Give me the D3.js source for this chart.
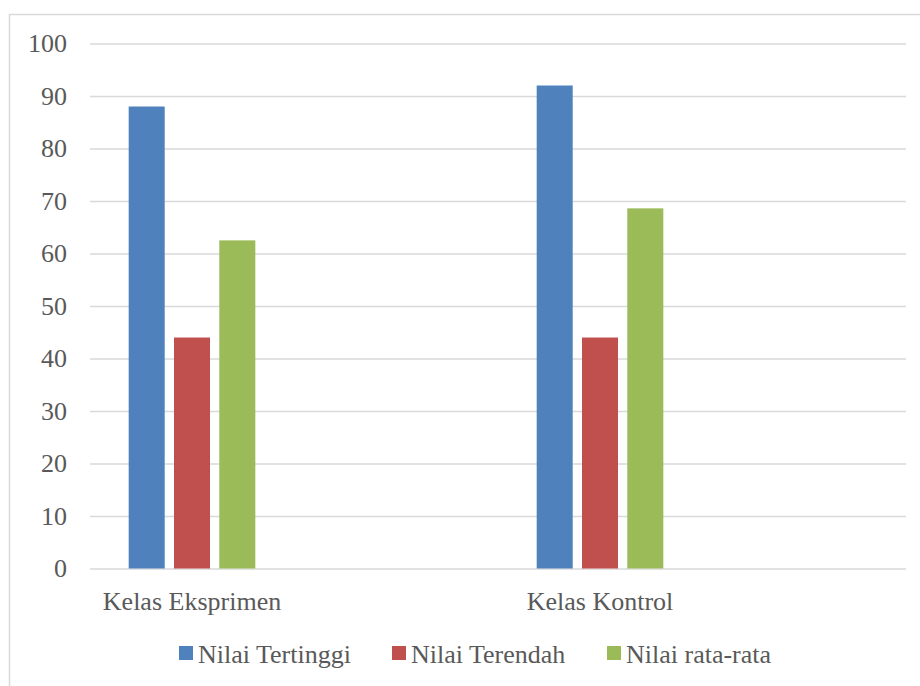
<!DOCTYPE html>
<html>
<head>
<meta charset="utf-8">
<script src="https://cdn.jsdelivr.net/npm/d3@7"></script>
<style>
  html, body { margin: 0; padding: 0; background: #fff; }
  svg { display: block; }
</style>
</head>
<body>
<script>
// Category slots (the sheet has an empty row after each class)
const categories = ["Kelas Eksprimen", "", "Kelas Kontrol", ""];
const seriesNames = ["Nilai Tertinggi", "Nilai Terendah", "Nilai rata-rata"];
const nilaiTertinggi = [88, null, 92, null];
const nilaiTerendah = [44, null, 44, null];
const nilaiRataRata = [62.5, null, 68.6, null];
const yTicks = [0, 10, 20, 30, 40, 50, 60, 70, 80, 90, 100];
const colors = ["#4F81BD", "#C0504D", "#9BBB59"];

const seriesValues = [nilaiTertinggi, nilaiTerendah, nilaiRataRata];
const FONT = "'Liberation Serif', serif";
const TEXT_COLOR = "#595959";

const svg = d3.select("body").append("svg")
  .attr("width", 920).attr("height", 686);
const plot = { left: 90, right: 906, top: 43.5, bottom: 568.5 };

function styleText(sel) {
  return sel.attr("fill", TEXT_COLOR)
    .style("font-family", FONT)
    .style("font-size", "26px");
}

// chart frame
svg.append("rect")
  .attr("x", 9.5).attr("y", 14.5)
  .attr("width", 1000).attr("height", 1000)
  .attr("fill", "none").attr("stroke", "#D9D9D9").attr("stroke-width", 1.5);

const x = d3.scaleBand()
  .domain(d3.range(categories.length))
  .range([plot.left, plot.right])
  .padding(0);

const xs = d3.scaleBand()
  .domain(seriesNames)
  .range([0, x.bandwidth()])
  .paddingInner(0.205)
  .paddingOuter(0.854);

const y = d3.scaleLinear().domain([0, 100]).range([plot.bottom, plot.top]);

// gridlines + y tick labels
const yAxis = d3.axisLeft(y)
  .tickValues(yTicks)
  .tickSize(-(plot.right - plot.left))
  .tickPadding(23)
  .tickFormat(d3.format("d"));

const gy = svg.append("g")
  .attr("transform", `translate(${plot.left},0)`)
  .call(yAxis)
  .attr("font-family", null)
  .attr("font-size", null);
gy.select(".domain").remove();
gy.selectAll(".tick line").attr("stroke", "#D9D9D9").attr("stroke-width", 1.3);
styleText(gy.selectAll(".tick text"));

// bars
seriesNames.forEach((name, si) => {
  svg.append("g")
    .selectAll("rect")
    .data(seriesValues[si].map((v, i) => ({ i, v })).filter(d => d.v != null))
    .join("rect")
    .attr("x", d => x(d.i) + xs(name))
    .attr("width", xs.bandwidth())
    .attr("y", d => y(d.v))
    .attr("height", d => y(0) - y(d.v))
    .attr("fill", colors[si]);
});

// category labels
const xAxis = d3.axisBottom(x)
  .tickSize(0)
  .tickPadding(0)
  .tickFormat(i => categories[i]);
const gx = svg.append("g")
  .attr("transform", `translate(0,${plot.bottom})`)
  .call(xAxis)
  .attr("font-family", null)
  .attr("font-size", null);
gx.select(".domain").remove();
styleText(gx.selectAll(".tick text"))
  .attr("dy", null)
  .attr("y", 41);

// legend
const legendX = [179, 392, 607];
const legend = svg.append("g");
seriesNames.forEach((name, si) => {
  const g = legend.append("g").attr("transform", `translate(${legendX[si]},646)`);
  g.append("rect").attr("width", 14).attr("height", 14).attr("fill", colors[si]);
  styleText(g.append("text"))
    .attr("x", 19).attr("y", 16.5)
    .text(name);
});
</script>
</body>
</html>
